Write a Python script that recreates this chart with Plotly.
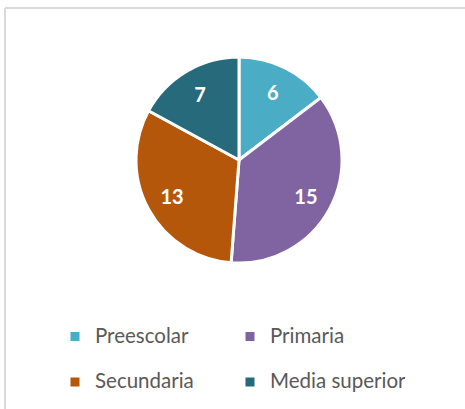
import plotly.graph_objects as go

categories = ["Preescolar", "Primaria", "Secundaria", "Media superior"]
values = [6, 15, 13, 7]
colors = ["#4BACC6", "#8064A2", "#B5570A", "#276A7B"]

# legend entries: first line holds the visible label, the empty second line sets row spacing
legend_labels = [f"<span style='font-size:20.5px'>{c}</span><br>&nbsp;" for c in categories]

pie_domain = dict(x=[136 / 465, 342 / 465], y=[1 - 263 / 409, 1 - 57 / 409])

fig = go.Figure()
# coloured slices + legend
fig.add_trace(go.Pie(
    labels=legend_labels,
    values=values,
    sort=False,
    direction="clockwise",
    rotation=0,
    marker=dict(colors=colors, line=dict(color="white", width=3)),
    textinfo="none",
    domain=pie_domain,
    hoverinfo="label+value",
))
# transparent ring on top that carries the value labels (places them ~3/4 of the radius out)
fig.add_trace(go.Pie(
    labels=categories,
    values=values,
    sort=False,
    direction="clockwise",
    rotation=0,
    hole=0.48,
    marker=dict(colors=["rgba(0,0,0,0)"] * len(values), line=dict(width=0)),
    texttemplate="%{value}",
    textposition="inside",
    insidetextorientation="horizontal",
    textfont=dict(family="Lato", size=20, color="white", weight="bold"),
    domain=pie_domain,
    showlegend=False,
    hoverinfo="skip",
))

frame_line = dict(color="#D9D9D9", width=2)
fig.update_layout(
    width=465, height=409,
    margin=dict(l=0, r=0, t=0, b=0, autoexpand=False),
    paper_bgcolor="white",
    plot_bgcolor="white",
    showlegend=True,
    legend=dict(
        orientation="h",
        x=55 / 465, xanchor="left",
        y=1 - 319.4 / 409, yanchor="top",
        entrywidth=130, entrywidthmode="pixels",
        valign="top",
        font=dict(family="Lato", size=16.3, color="#595959"),
        bgcolor="rgba(0,0,0,0)",
    ),
    shapes=[
        # chart frame: top edge and left edge
        dict(type="line", xref="paper", yref="paper",
             x0=5 / 465, x1=1, y0=1 - 8 / 409, y1=1 - 8 / 409, line=frame_line),
        dict(type="line", xref="paper", yref="paper",
             x0=5 / 465, x1=5 / 465, y0=0, y1=1 - 8 / 409, line=frame_line),
    ],
)

fig.write_html(
    "out.html",
    config={"displayModeBar": False},
    post_script="document.body.style.margin='0';",
)
